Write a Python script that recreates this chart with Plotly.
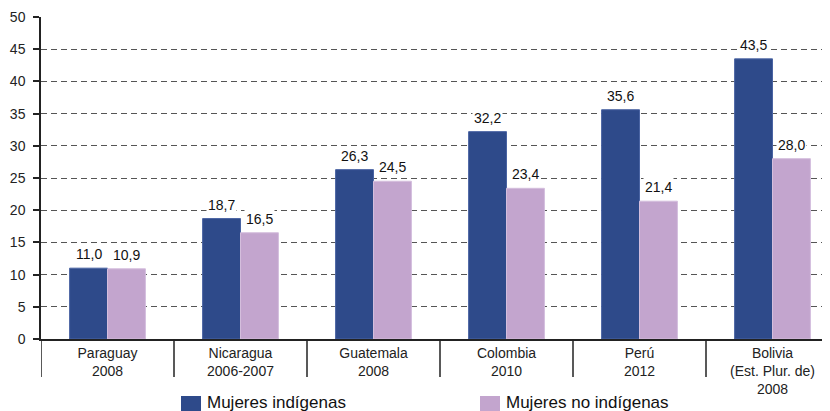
import plotly.graph_objects as go

categories = ["Paraguay<br>2008", "Nicaragua<br>2006-2007", "Guatemala<br>2008",
              "Colombia<br>2010", "Perú<br>2012", "Bolivia<br>(Est. Plur. de)<br>2008"]
indigenas = [11.0, 18.7, 26.3, 32.2, 35.6, 43.5]
no_indigenas = [10.9, 16.5, 24.5, 23.4, 21.4, 28.0]
series_names = ["Mujeres indígenas", "Mujeres no indígenas"]
y_ticks = list(range(0, 51, 5))

DARK = "#2E4A8A"
LIGHT = "#C3A5CE"
FONT = "Liberation Sans, Arial, sans-serif"
BARGAP = 0.43

xpos = list(range(len(categories)))

def fmt(v):
    return f"{v:.1f}".replace(".", ",")

fig = go.Figure()
fig.add_trace(go.Bar(x=xpos, y=indigenas, name=series_names[0],
                     marker=dict(color=DARK, line=dict(color="#4a64a3", width=1)),
                     showlegend=False))
fig.add_trace(go.Bar(x=xpos, y=no_indigenas, name=series_names[1],
                     marker=dict(color=LIGHT, line=dict(color="#d4bedd", width=1)),
                     showlegend=False))

# geometry (page body has an 8px margin)
OFF = 8
W, H = 830, 411
PL, PT, PB = 41, 17, 339          # plot area edges in page pixels
L, T = PL - OFF, PT - OFF
B = H - (PB - OFF)
plot_h = PB - PT
plot_w = W - L
n_vis = plot_w / 133.0

annotations = []
half = (1 - BARGAP) / 4
for series, sign in [(indigenas, -1), (no_indigenas, 1)]:
    for i, v in enumerate(series):
        annotations.append(dict(x=xpos[i] + sign * half, y=v, xref="x", yref="y",
                                text=fmt(v), showarrow=False, yanchor="bottom",
                                yshift=4, bgcolor="white", borderpad=1,
                                font=dict(size=14, color="#111", family=FONT)))

shapes = []
# category separators extending below the axis
for i in range(len(categories)):
    shapes.append(dict(type="line", xref="x", yref="paper",
                       x0=i - 0.5, x1=i - 0.5, y0=0, y1=-(377 - PB) / plot_h,
                       line=dict(color="#222", width=1.5)))

# manual legend
leg_y_top = -(396 - PB) / plot_h
leg_y_bot = -(416 - PB) / plot_h
for name, color, px in [(series_names[0], DARK, 181), (series_names[1], LIGHT, 480)]:
    shapes.append(dict(type="rect", xref="paper", yref="paper",
                       x0=(px - PL) / plot_w, x1=(px + 20 - PL) / plot_w,
                       y0=leg_y_bot, y1=leg_y_top,
                       line=dict(width=0), fillcolor=color))
    annotations.append(dict(xref="paper", yref="paper",
                            x=(px + 24 - PL) / plot_w, y=-(402 - PB) / plot_h,
                            xanchor="left", yanchor="middle", showarrow=False,
                            text=name, font=dict(size=17, color="#111", family=FONT)))

fig.update_layout(
    width=W, height=H,
    margin=dict(l=L, r=0, t=T, b=B, pad=0),
    paper_bgcolor="white", plot_bgcolor="white",
    barmode="group", bargap=BARGAP, bargroupgap=0,
    font=dict(family=FONT, size=14, color="#222"),
    shapes=shapes, annotations=annotations,
    showlegend=False,
    xaxis=dict(range=[-0.5, -0.5 + n_vis], tickmode="array", tickvals=xpos,
               ticktext=categories, showgrid=False, zeroline=False, automargin=False,
               showline=True, linecolor="#222", linewidth=1.5, ticks="",
               tickfont=dict(size=14, color="#222")),
    yaxis=dict(range=[0, 50], tickmode="array", tickvals=y_ticks, automargin=False,
               showgrid=True, gridcolor="#555", gridwidth=1, griddash="6px,4px",
               zeroline=False, showline=True, linecolor="#222", linewidth=1.5,
               ticks="outside", ticklen=6, tickcolor="#222", tickwidth=1.5,
               ticklabelstandoff=5, tickfont=dict(size=14, color="#222")),
)

fig.write_html("out.html")
